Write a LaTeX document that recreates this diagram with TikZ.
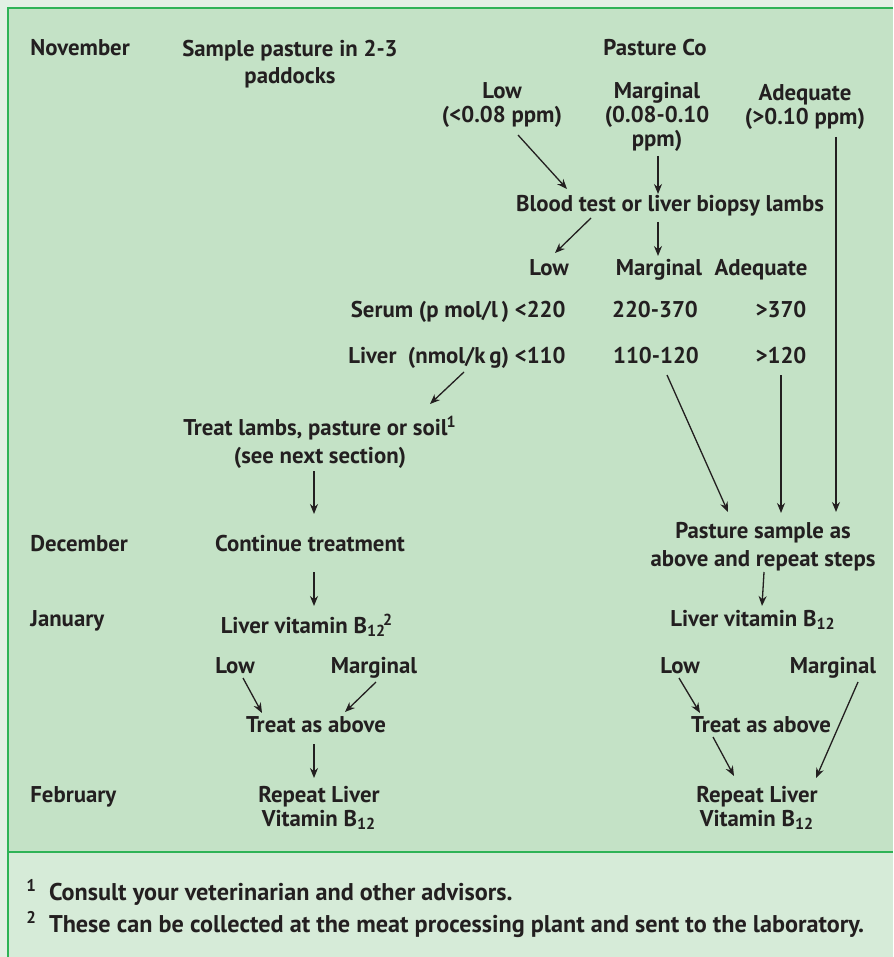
\documentclass[tikz,border=0pt]{standalone}
\usepackage{fontspec}
\setmainfont{PT Sans}
\usepackage{tikz}
\usetikzlibrary{arrows.meta,positioning,calc}
\usepackage{xcolor}
\definecolor{pagebg}{HTML}{E2F0E4}
\definecolor{panelbg}{HTML}{C4E2C6}
\definecolor{notebg}{HTML}{D6EBD8}
\definecolor{rulegreen}{HTML}{2EB356}
\definecolor{inkgray}{HTML}{231F20}

\begin{document}
\begin{tikzpicture}[x=0.5pt,y=-0.5pt,
  txt/.style={font=\fontsize{11.4}{13.8}\selectfont\bfseries,text=inkgray,inner sep=0pt,align=center,anchor=base},
  tight/.style={txt,font=\fontsize{11.4}{12}\selectfont\bfseries},
  month/.style={txt,anchor=base west},
  note/.style={month,font=\fontsize{12.1}{14}\selectfont\bfseries},
  arr/.style={-{Stealth[length=5pt,width=4pt]},line width=0.65pt,draw=inkgray}]
\useasboundingbox (0,0) rectangle (893,957);
% panels
\fill[pagebg] (0,0) rectangle (893,957);
\fill[panelbg] (8,8) rectangle (893,852);
\fill[notebg] (8,852) rectangle (893,957);
\draw[rulegreen,line width=1.1pt] (893,8) -- (8,8) -- (8,957);
\draw[rulegreen,line width=1.1pt] (8,852) -- (893,852);
% months
\node[month] (nov) at (30,56) {November};
\node[month] (dec) at (30,551) {December};
\node[month] (jan) at (30,626) {January};
\node[month] (feb) at (30,802) {February};
% november (multi-line nodes sit on their last line)
\node[txt] (sample) at (290,84) {Sample pasture in 2-3\\paddocks};
\node[txt] (pastco) at (655,56) {Pasture Co};
\node[tight] (lowp) at (502,123) {Low\\(<0.08 ppm)};
\node[tight] (margp) at (657,147) {Marginal\\(0.08-0.10\\ppm)};
\node[tight] (adeqp) at (805,125) {Adequate\\(>0.10 ppm)};
\node[txt] (blood) at (670,212) {Blood test or liver biopsy lambs};
\node[txt] (lowb) at (549,275) {Low};
\node[txt] (margb) at (659,275) {Marginal};
\node[txt] (adeqb) at (761,275) {Adequate};
\node[txt,anchor=base east] (serum) at (566,317) {Serum (p mol/l\,) <220};
\node[txt] (serm) at (655,317) {220-370};
\node[txt] (sera) at (781,317) {>370};
\node[txt,anchor=base east] (liver) at (566,363) {Liver\enspace(nmol/k\,g) <110};
\node[txt] (livm) at (656,363) {110-120};
\node[txt] (liva) at (781,363) {>120};
\node[txt] (treat) at (320,463) {Treat lambs, pasture or soil\kern-0.5pt\textsuperscript{1}\\(see next section)};
\node[txt] (pasts) at (763,566) {Pasture sample as\\above and repeat steps};
% december to february
\node[txt] (cont) at (310,551) {Continue treatment};
\node[txt] (livl) at (307,633) {Liver vitamin B\textsubscript{12}\kern-1.5pt\textsuperscript{2}};
\node[txt] (livr) at (753,626) {Liver vitamin B\textsubscript{12}};
\node[txt] (lowl) at (235,673) {Low};
\node[txt] (margl) at (374,673) {Marginal};
\node[txt] (lowr) at (680,673) {Low};
\node[txt] (margr) at (833,673) {Marginal};
\node[txt] (treatl) at (316,732) {Treat as above};
\node[txt] (treatr) at (761,732) {Treat as above};
\node[tight] (repl) at (319,826) {Repeat Liver\\Vitamin B\textsubscript{12}};
\node[tight] (repr) at (757,826) {Repeat Liver\\Vitamin B\textsubscript{12}};
% footnotes
\node[note] (fn1) at (26,900) {\textsuperscript{1}\hspace{6pt}Consult your veterinarian and other advisors.};
\node[note] (fn2) at (26,932) {\textsuperscript{2}\hspace{6pt}These can be collected at the meat processing plant and sent to the laboratory.};
% arrows
\draw[arr] ([shift={(16,12)}]lowp.base) -- ([shift={(-103,-23)}]blood.base);
\draw[arr] ([shift={(1,9)}]margp.base) -- ([shift={(-12,-18)}]blood.base);
\draw[arr] ([shift={(31,12)}]adeqp.base) -- ([shift={(73,-54)}]pasts.base);
\draw[arr] ([shift={(-79,6)}]blood.base) -- ([shift={(6,-22)}]lowb.base);
\draw[arr] ([shift={(-12,10)}]blood.base) -- ([shift={(-1,-19)}]margb.base);
\draw[arr] ([shift={(-102,9)}]liver.base east) -- ([shift={(110,-59)}]treat.base);
\draw[arr] ([shift={(-6,8)}]treat.base) -- ([shift={(4,-37)}]cont.base);
\draw[arr] ([shift={(4,21)}]cont.base) -- ([shift={(7,-27)}]livl.base);
\draw[arr] ([shift={(11,12)}]livm.base) -- ([shift={(-35,-54)}]pasts.base);
\draw[arr] ([shift={(0,12)}]liva.base) -- ([shift={(18,-53)}]pasts.base);
\draw[arr] ([shift={(1,6)}]pasts.base) -- ([shift={(9,-20)}]livr.base);
\draw[arr] ([shift={(8,5)}]lowl.base) -- ([shift={(-54,-19)}]treatl.base);
\draw[arr] ([shift={(2,9)}]margl.base) -- ([shift={(29,-20)}]treatl.base);
\draw[arr] ([shift={(-2,12)}]treatl.base) -- ([shift={(-5,-48)}]repl.base);
\draw[arr] ([shift={(-1,5)}]lowr.base) -- ([shift={(-61,-19)}]treatr.base);
\draw[arr] ([shift={(-48,5)}]treatr.base) -- ([shift={(-23,-50)}]repr.base);
\draw[arr] ([shift={(25,9)}]margr.base) -- ([shift={(59,-48)}]repr.base);
\end{tikzpicture}
\end{document}
